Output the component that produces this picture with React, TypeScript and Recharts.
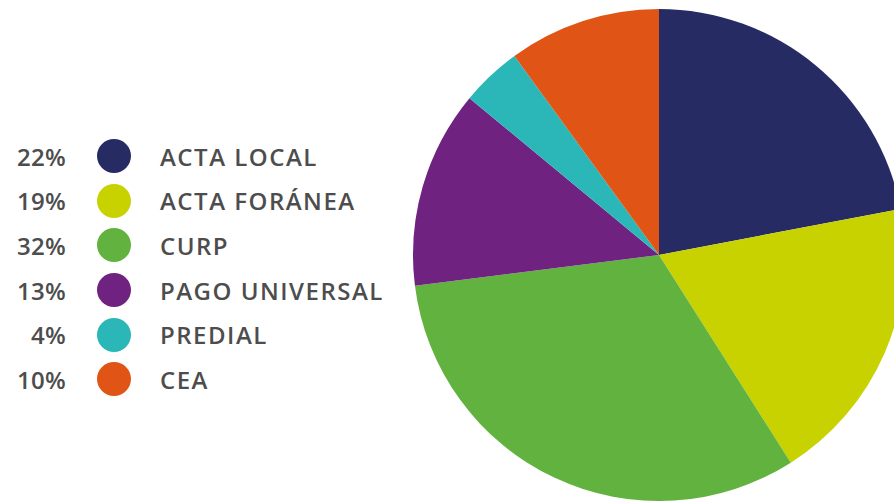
import { PieChart, Pie, Cell } from "recharts";

const categories = ["ACTA LOCAL", "ACTA FORÁNEA", "CURP", "PAGO UNIVERSAL", "PREDIAL", "CEA"];
const shares = [22, 19, 32, 13, 4, 10];
const colors = ["#262B63", "#C8D200", "#62B23F", "#6F2280", "#2BB7B8", "#E05416"];

const data = categories.map((name, i) => ({ name, value: shares[i] }));

const textColor = "#4D4D4D";

function LegendList() {
  return (
    <div
      style={{
        position: "absolute",
        left: 0,
        top: 134,
        fontFamily: "'Open Sans', sans-serif",
        fontWeight: 600,
        fontSize: 24,
        color: textColor,
      }}
    >
      {data.map((d, i) => (
        <div key={d.name} style={{ display: "flex", alignItems: "center", height: 44.6 }}>
          <span style={{ width: 66, textAlign: "right", letterSpacing: 0.3 }}>{d.value}%</span>
          <span
            style={{
              width: 34,
              height: 34,
              borderRadius: "50%",
              background: colors[i],
              marginLeft: 31,
              display: "inline-block",
              flexShrink: 0,
            }}
          />
          <span style={{ marginLeft: 29, whiteSpace: "nowrap", letterSpacing: 1.5 }}>{d.name}</span>
        </div>
      ))}
    </div>
  );
}

export default function App() {
  return (
    <div style={{ position: "absolute", left: 0, top: 0, width: 894, height: 501, overflow: "hidden", background: "#fff" }}>
      <PieChart width={894} height={501} margin={{ top: 0, right: 0, bottom: 0, left: 0 }}>
        <Pie
          data={data}
          dataKey="value"
          nameKey="name"
          cx={659}
          cy={255}
          outerRadius={246}
          startAngle={90}
          endAngle={-270}
          stroke="none"
          isAnimationActive={false}
        >
          {data.map((d, i) => (
            <Cell key={d.name} fill={colors[i]} />
          ))}
        </Pie>
      </PieChart>
      <LegendList />
    </div>
  );
}
